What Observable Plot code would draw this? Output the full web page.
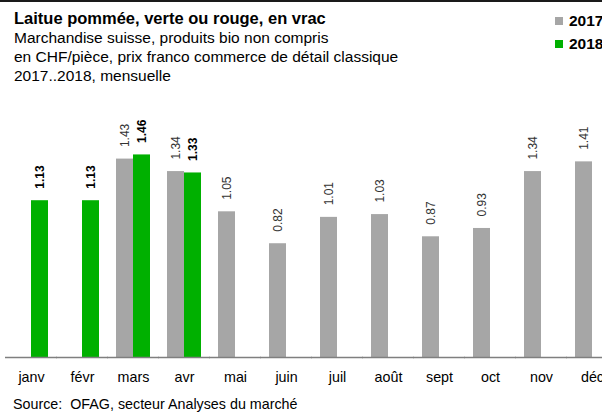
<!DOCTYPE html>
<html>
<head>
<meta charset="utf-8">
<script src="https://cdn.jsdelivr.net/npm/d3@7"></script>
<script src="https://cdn.jsdelivr.net/npm/@observablehq/plot@0.6"></script>
<style>
  html, body { margin: 0; padding: 0; width: 602px; height: 412px; overflow: hidden; background: #fff; }
  body { position: relative; font-family: "Liberation Sans", Arial, sans-serif; color: #000; }
  #topline { position: absolute; left: 0; top: 0; width: 602px; height: 2px; background: #1a1a1a; }
  #title { position: absolute; left: 14px; top: 8px; font-weight: bold; font-size: 16.5px; line-height: 20px; white-space: nowrap; }
  #subtitle { position: absolute; left: 14px; top: 28px; font-size: 15.5px; line-height: 19px; white-space: nowrap; }
  #legend { position: absolute; left: 555px; top: 9px; font-weight: bold; font-size: 15.5px; line-height: 23px; white-space: nowrap; }
  #legend .sw { display: inline-block; width: 8px; height: 8px; margin-right: 6px; vertical-align: 1px; }
  #chart { position: absolute; left: 0; top: 90px; width: 620px; }
  #chart svg { max-width: none !important; }
  #source { position: absolute; left: 13px; top: 396px; font-size: 14.3px; line-height: 16px; white-space: pre; }
</style>
</head>
<body>
<div id="topline"></div>
<div id="title"></div>
<div id="subtitle"></div>
<div id="legend"></div>
<div id="chart"></div>
<div id="source"></div>
<script>
const titleText = "Laitue pommée, verte ou rouge, en vrac";
const subtitleLines = [
  "Marchandise suisse, produits bio non compris",
  "en CHF/pièce, prix franco commerce de détail classique",
  "2017..2018, mensuelle"
];
const sourceText = "Source:  OFAG, secteur Analyses du marché";

const months = ["janv", "févr", "mars", "avr", "mai", "juin", "juil", "août", "sept", "oct", "nov", "déc"];
const years = ["2017", "2018"];
const values2017 = [null, null, 1.43, 1.34, 1.05, 0.82, 1.01, 1.03, 0.87, 0.93, 1.34, 1.41];
const values2018 = [1.13, 1.13, 1.46, 1.33, null, null, null, null, null, null, null, null];
const colors = ["#a6a6a6", "#00b000"];

document.getElementById("title").textContent = titleText;
document.getElementById("subtitle").innerHTML = subtitleLines.map(s => `<div>${s}</div>`).join("");
document.getElementById("source").textContent = sourceText;
document.getElementById("legend").innerHTML = years.map((y, i) =>
  `<div><span class="sw" style="background:${colors[i]}"></span>${y}</div>`).join("");

const data = [];
months.forEach((m, i) => {
  if (values2017[i] != null) data.push({month: m, year: "2017", value: values2017[i]});
  if (values2018[i] != null) data.push({month: m, year: "2018", value: values2018[i]});
});
const data2017 = data.filter(d => d.year === "2017");
const data2018 = data.filter(d => d.year === "2018");

const labelOpts = {
  fx: "month", x: "year", y: "value",
  text: d => d.value.toFixed(2),
  rotate: -90, textAnchor: "start", dy: -12, fontSize: 12
};

const chart = Plot.plot({
  width: 620,
  height: 300,
  marginLeft: 4,
  marginRight: 1.5,
  marginTop: 45,
  marginBottom: 33,
  style: {fontFamily: "Liberation Sans, Arial, sans-serif", background: "transparent", overflow: "visible", maxWidth: "none"},
  fx: {domain: months, paddingInner: 0.33, paddingOuter: 0.165, label: null},
  x: {domain: years, axis: null, padding: 0},
  y: {domain: [0, 1.6], axis: null},
  color: {domain: years, range: colors},
  marks: [
    Plot.barY(data, {fx: "month", x: "year", y: "value", fill: "year"}),
    Plot.ruleY([0], {stroke: "#7f7f7f", strokeWidth: 1.5, insetLeft: -9, insetRight: -9}),
    Plot.text(data2017, {...labelOpts, fill: "#333", fontWeight: "normal"}),
    Plot.text(data2018, {...labelOpts, fill: "#000", fontWeight: "bold"}),
    Plot.axisFx({anchor: "bottom", tickSize: 0, tickPadding: 14, fontSize: 14.3, label: null, color: "#000"})
  ]
});
document.getElementById("chart").appendChild(chart);
</script>
</body>
</html>
